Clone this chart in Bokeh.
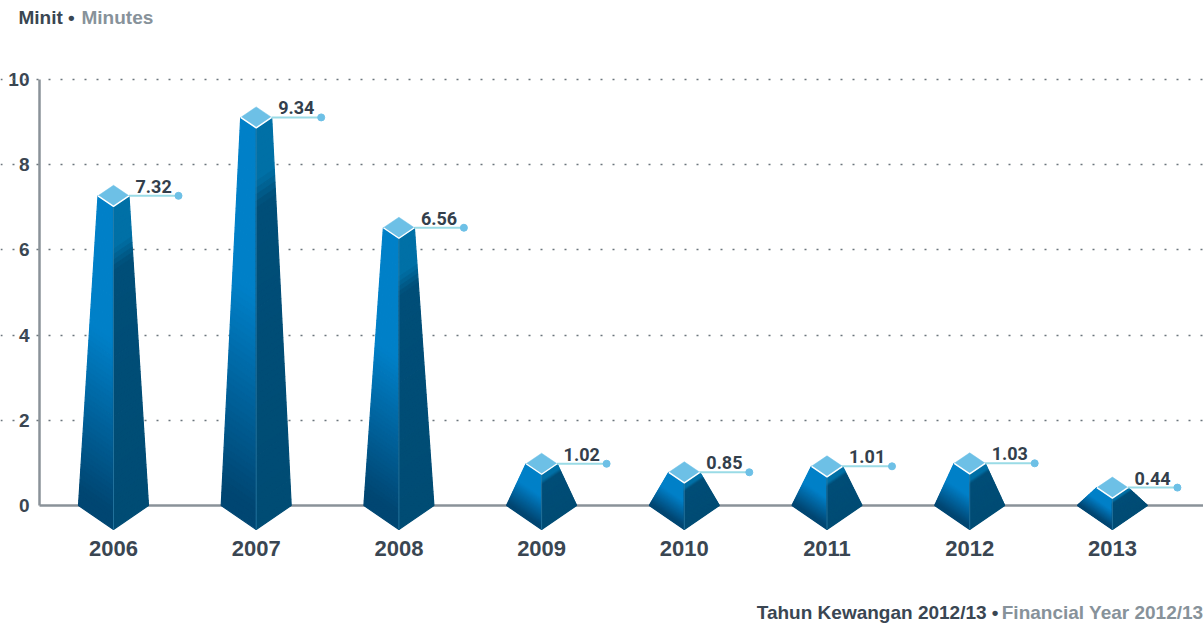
from bokeh.plotting import figure
from bokeh.models import Range1d, LinearAxis, FixedTicker, Label, ColumnDataSource, Grid
from bokeh.embed import file_html
from bokeh.resources import INLINE
from bokeh.core.properties import value

years = ["2006", "2007", "2008", "2009", "2010", "2011", "2012", "2013"]
labels = ["7.32", "9.34", "6.56", "1.02", "0.85", "1.01", "1.03", "0.44"]
# height each column is actually drawn to
heights = [7.27, 9.11, 6.52, 0.98, 0.78, 0.92, 0.99, 0.42]
y_ticks = [0, 2, 4, 6, 8, 10]

PX_X, PX_Y = 142.7, 42.6
W, H = 1203, 626
X0, Y0 = 113.0, 505.0        # pixel of (first year, value 0)
TOP_W, BASE_W = 15.5 / PX_X, 35 / PX_X
TOP_D, TIP_D = 10.5 / PX_Y, 24 / PX_Y
REACH = 65 / PX_X
N = 60


def hex2rgb(c):
    return tuple(int(c[i:i + 2], 16) for i in (1, 3, 5))


def ramp(stops, t):
    for (t0, c0), (t1, c1) in zip(stops, stops[1:]):
        if t <= t1:
            f = (t - t0) / (t1 - t0) if t1 > t0 else 0
            a, b = hex2rgb(c0), hex2rgb(c1)
            return "#%02x%02x%02x" % tuple(round(a[k] + (b[k] - a[k]) * f) for k in range(3))
    return stops[-1][1]


LEFT = [(0, "#0080c8"), (0.42, "#0080c8"), (0.95, "#004672"), (1, "#004672")]
RIGHT = [(0, "#0070a6"), (0.13, "#0070a6"), (0.2, "#004e78"), (1, "#004c74")]

p = figure(width=W, height=H, output_backend="svg", toolbar_location=None,
           x_range=Range1d(-X0 / PX_X, (W - X0) / PX_X),
           y_range=Range1d(-(H - Y0) / PX_Y, Y0 / PX_Y),
           x_axis_type=None, y_axis_type=None,
           min_border=0, min_border_left=0, min_border_right=0,
           min_border_top=0, min_border_bottom=0)
p.outline_line_color = None
p.background_fill_color = "white"
p.xgrid.visible = False
p.ygrid.visible = False

ax_left = (39 - X0) / PX_X

xaxis = LinearAxis(fixed_location=0, ticker=FixedTicker(ticks=list(range(len(years)))),
                   major_label_overrides={i: y for i, y in enumerate(years)})
xaxis.bounds = (ax_left, (W - X0) / PX_X)
xaxis.axis_line_color = "#8a9299"
xaxis.axis_line_width = 2.5
xaxis.major_tick_line_color = None
xaxis.minor_tick_line_color = None
xaxis.major_label_standoff = 29
xaxis.major_label_text_font = "Liberation Sans"
xaxis.major_label_text_font_style = "bold"
xaxis.major_label_text_font_size = "22px"
xaxis.major_label_text_color = "#3a4652"
xaxis.level = "underlay"
p.add_layout(xaxis, "below")

yaxis = LinearAxis(fixed_location=ax_left, ticker=FixedTicker(ticks=y_ticks), bounds=(0, 10))
yaxis.axis_line_color = "#8a9299"
yaxis.axis_line_width = 2.5
yaxis.major_tick_line_color = None
yaxis.minor_tick_line_color = None
yaxis.major_tick_out = 0
yaxis.major_label_standoff = 10
yaxis.major_label_text_font = "Liberation Sans"
yaxis.major_label_text_font_style = "bold"
yaxis.major_label_text_font_size = "19px"
yaxis.major_label_text_color = "#3a4652"
yaxis.level = "underlay"
p.add_layout(yaxis, "left")

# dotted grid
grid = Grid(dimension=1, ticker=FixedTicker(ticks=[t for t in y_ticks if t]))
grid.grid_line_color = "#6b757c"
grid.grid_line_dash = "2 10"
grid.grid_line_width = 1.5
grid.bounds = (ax_left, (W - X0) / PX_X)
grid.level = "underlay"
p.add_layout(grid)

xs, ys, cols = [], [], []
for i, h in enumerate(heights):
    for side, stops in ((-1, LEFT), (1, RIGHT)):
        # upper edge: outer corner -> centre front ; lower edge: base corner -> tip
        up = [(i + side * TOP_W, h), (i, h - TOP_D)]
        lo = [(i + side * BASE_W, 0), (i, -TIP_D)]
        for k in range(N):
            a, b = k / N, (k + 1) / N
            pt = lambda e, t: (up[e][0] + (lo[e][0] - up[e][0]) * t, up[e][1] + (lo[e][1] - up[e][1]) * t)
            q = [pt(0, a), pt(1, a), pt(1, b), pt(0, b)]
            xs.append([c[0] for c in q])
            ys.append([c[1] for c in q])
            cols.append(ramp(stops, (a + b) / 2))
p.patches(xs, ys, fill_color=cols, line_color=cols, line_width=1.2)

# seam between the faces
p.segment(x0=list(range(8)), y0=[h - TOP_D for h in heights], x1=list(range(8)), y1=[-TIP_D] * 8,
          line_color="#2f82ad", line_width=1, line_alpha=0.7)

# top diamonds with white front edge
p.patches([[i - TOP_W, i, i + TOP_W, i] for i in range(8)],
          [[h, h + TOP_D, h, h - TOP_D] for h in heights],
          fill_color="#6dc0e6", line_color="#6dc0e6", line_width=0.5)
p.multi_line([[i - TOP_W, i, i + TOP_W] for i in range(8)],
             [[h, h - TOP_D, h] for h in heights], line_color="white", line_width=1.5)

# leader lines, dots and values
p.segment(x0=[i + TOP_W for i in range(8)], y0=heights, x1=[i + REACH for i in range(8)], y1=heights,
          line_color="#9adbe6", line_width=2)
p.scatter([i + REACH for i in range(8)], heights, size=7, fill_color="#6dc0e6", line_color="#6dc0e6")
src = ColumnDataSource(dict(x=[i + 22 / PX_X for i in range(8)], y=heights, t=labels))
p.text("x", "y", text="t", source=src, text_font=value("Roboto"), text_font_style="bold",
       text_font_size="18px", text_color="#333f4c", text_align="left", text_baseline="bottom",
       y_offset=-3)


def note(x, y, text, color, align="left"):
    p.add_layout(Label(x=x, y=y, x_units="screen", y_units="screen", text=text, text_color=color,
                       text_font="Liberation Sans", text_font_style="bold", text_font_size="19px",
                       text_align=align, text_baseline="middle"))


note(18, H - 17, "Minit \u2022", "#3a4652")
note(81, H - 17, "Minutes", "#87929a")
note(1203, H - 612, "Financial Year 2012/13", "#87929a", "right")
note(998, H - 612, "Tahun Kewangan 2012/13 \u2022", "#3a4652", "right")

open("out.html", "w").write(file_html(p, INLINE))
